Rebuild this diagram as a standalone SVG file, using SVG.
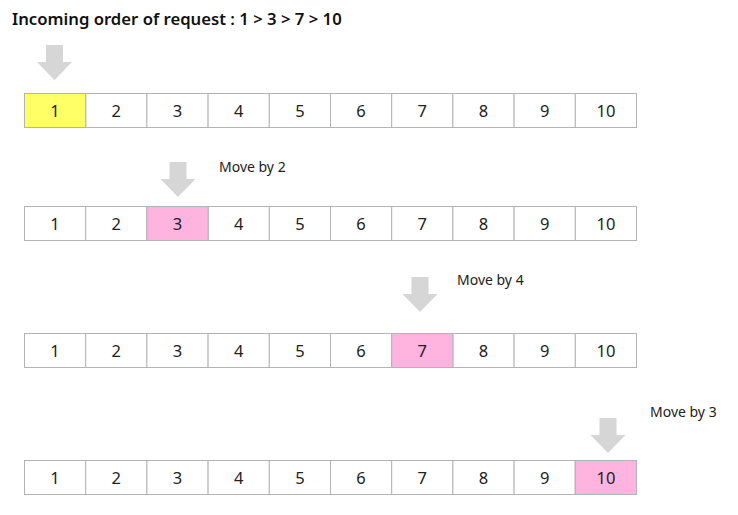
<svg xmlns="http://www.w3.org/2000/svg" width="738" height="515" viewBox="0 0 738 515">
<defs>
<style>
.c{fill:#ffffff;stroke:#b4b4b4;stroke-width:1}
.y{fill:#ffff66}
.p{fill:#ffb3df}
.n{font-family:"Noto Sans","DejaVu Sans",sans-serif;font-size:16.5px;fill:#222;text-anchor:middle}
.l{font-family:"Noto Sans","DejaVu Sans",sans-serif;font-size:14px;fill:#222}
.t{font-family:"Noto Sans","DejaVu Sans",sans-serif;font-size:16.7px;font-weight:600;fill:#111}
.a{fill:#d6d6d6}
</style>
<g id="row">
<rect class="c" x="24.5" y="0.5" width="61.2" height="34"/>
<rect class="c" x="85.7" y="0.5" width="61.2" height="34"/>
<rect class="c" x="146.9" y="0.5" width="61.2" height="34"/>
<rect class="c" x="208.1" y="0.5" width="61.2" height="34"/>
<rect class="c" x="269.3" y="0.5" width="61.2" height="34"/>
<rect class="c" x="330.5" y="0.5" width="61.2" height="34"/>
<rect class="c" x="391.7" y="0.5" width="61.2" height="34"/>
<rect class="c" x="452.9" y="0.5" width="61.2" height="34"/>
<rect class="c" x="514.1" y="0.5" width="61.2" height="34"/>
<rect class="c" x="575.3" y="0.5" width="61.2" height="34"/>
</g>
<g id="nums">
<text class="n" x="55.1" y="23.5">1</text>
<text class="n" x="116.3" y="23.5">2</text>
<text class="n" x="177.5" y="23.5">3</text>
<text class="n" x="238.7" y="23.5">4</text>
<text class="n" x="299.9" y="23.5">5</text>
<text class="n" x="361.1" y="23.5">6</text>
<text class="n" x="422.3" y="23.5">7</text>
<text class="n" x="483.5" y="23.5">8</text>
<text class="n" x="544.7" y="23.5">9</text>
<text class="n" x="605.9" y="23.5">10</text>
</g>
<polygon id="arr" points="-8.5,0 8.5,0 8.5,17 17.5,17 0,35 -17.5,17 -8.5,17"/>
</defs>
<text class="t" x="12" y="25">Incoming order of request : 1 &gt; 3 &gt; 7 &gt; 10</text>
<g id="array1">
<use href="#row" y="93"/>
<rect class="c y" x="24.5" y="93.5" width="61.2" height="34"/>
<use href="#nums" y="93"/>
</g>
<g id="array2">
<use href="#row" y="206"/>
<rect class="c p" x="146.9" y="206.5" width="61.2" height="34"/>
<use href="#nums" y="206"/>
</g>
<g id="array3">
<use href="#row" y="333"/>
<rect class="c p" x="391.7" y="333.5" width="61.2" height="34"/>
<use href="#nums" y="333"/>
</g>
<g id="array4">
<use href="#row" y="460"/>
<rect class="c p" x="575.3" y="460.5" width="61.2" height="34"/>
<use href="#nums" y="460"/>
</g>
<g id="connectors">
<use class="a" href="#arr" x="54.5" y="45"/>
<use class="a" href="#arr" x="178" y="162"/>
<use class="a" href="#arr" x="420" y="277"/>
<use class="a" href="#arr" x="608" y="418"/>
</g>
<g id="labels">
<text class="l" x="219" y="172">Move by 2</text>
<text class="l" x="457" y="285">Move by 4</text>
<text class="l" x="650" y="417">Move by 3</text>
</g>
</svg>
